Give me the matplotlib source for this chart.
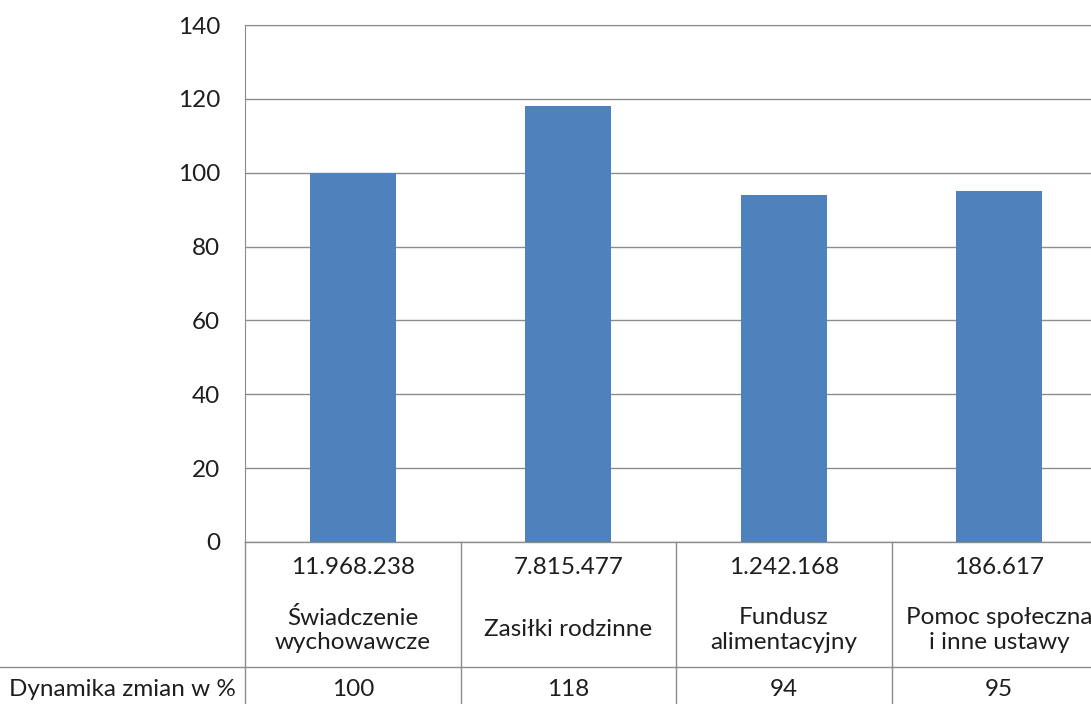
import matplotlib.pyplot as plt
from matplotlib.lines import Line2D

# data
categories = ['Świadczenie\nwychowawcze', 'Zasiłki rodzinne',
              'Fundusz\nalimentacyjny', 'Pomoc społeczna\ni inne ustawy']
amounts = ['11.968.238', '7.815.477', '1.242.168', '186.617']
dynamics = [100, 118, 94, 95]
row_label = 'Dynamika zmian w %'
yticks = [0, 20, 40, 60, 80, 100, 120, 140]

plt.rcParams['font.family'] = ['Lato', 'DejaVu Sans']
W, H = 1091, 704
grid_c = '#8c8c8c'
txt_c = '#1e1e1e'
fs = 17.5

fig = plt.figure(figsize=(W / 100, H / 100), dpi=100)
# plot area: left 245px, top 25px, zero line at 542px, right edge off the picture
ax = fig.add_axes([245 / W, 1 - 542 / H, 862 / W, (542 - 25) / H])

x = list(range(len(dynamics)))
ax.bar(x, dynamics, width=0.4, color='#4f81bd', zorder=3)
ax.set_xlim(-0.5, len(dynamics) - 0.5)
ax.set_ylim(0, 140)
ax.set_yticks(yticks)
ax.set_yticklabels([str(t) for t in yticks], fontsize=fs, color=txt_c)
ax.tick_params(axis='y', length=0, pad=18)
ax.set_xticks([])
ax.grid(axis='y', color=grid_c, linewidth=1, zorder=0)
for s in ['right', 'bottom']:
    ax.spines[s].set_visible(False)
ax.spines['top'].set_color(grid_c)
ax.spines['left'].set_color(grid_c)

# data table under the chart
axh = 542 - 25
def ay(px):
    return (542 - px) / axh

tr = ax.get_xaxis_transform()
for i in range(len(dynamics) + 1):
    ax.plot([i - 0.5, i - 0.5], [0, ay(710)], color=grid_c, lw=1,
            transform=tr, clip_on=False)
ax.plot([-0.5, len(dynamics) - 0.5], [0, 0], color=grid_c, lw=1,
        transform=tr, clip_on=False)
fig.add_artist(Line2D([0, 1], [1 - 667 / H, 1 - 667 / H], color=grid_c, lw=1))

for i, (a, c, d) in enumerate(zip(amounts, categories, dynamics)):
    ax.text(i, ay(567), a, transform=tr, ha='center', va='center', fontsize=fs, color=txt_c)
    ax.text(i, ay(630), c, transform=tr, ha='center', va='center', fontsize=fs,
            color=txt_c, linespacing=1.2)
    ax.text(i, ay(690), str(d), transform=tr, ha='center', va='center', fontsize=fs, color=txt_c)

fig.text(236 / W, 1 - 690 / H, row_label, ha='right', va='center', fontsize=fs, color=txt_c)

fig.savefig('out.png', dpi=100)
